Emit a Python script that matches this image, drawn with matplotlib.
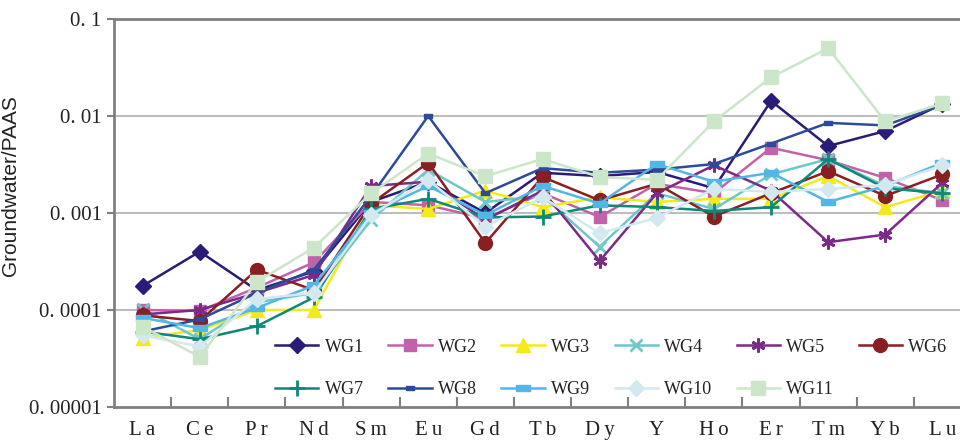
import matplotlib
matplotlib.use("Agg")
import matplotlib.pyplot as plt
from matplotlib.ticker import FixedLocator, NullLocator, FixedFormatter

elements = ["La", "Ce", "Pr", "Nd", "Sm", "Eu", "Gd", "Tb", "Dy", "Y", "Ho", "Er", "Tm", "Yb", "Lu"]

WG1 = [1.77e-4, 4.0e-4, 1.6e-4, 2.5e-4, 1.3e-3, 2.1e-3, 1.0e-3, 2.6e-3, 2.4e-3, 2.65e-3, 1.8e-3, 1.43e-2, 4.9e-3, 7.0e-3, 1.33e-2]
WG2 = [1.0e-4, 9.8e-5, 1.7e-4, 3.1e-4, 1.3e-3, 1.2e-3, 8.8e-4, 1.6e-3, 9.1e-4, 2.0e-3, 1.6e-3, 4.7e-3, 3.5e-3, 2.3e-3, 1.35e-3]
WG3 = [5.2e-5, 6.2e-5, 1.0e-4, 1.0e-4, 1.2e-3, 1.1e-3, 1.7e-3, 1.15e-3, 1.45e-3, 1.3e-3, 1.4e-3, 1.4e-3, 2.4e-3, 1.15e-3, 1.7e-3]
WG4 = [1.03e-4, 5.0e-5, 1.2e-4, 1.5e-4, 8.5e-4, 2.8e-3, 1.3e-3, 1.5e-3, 4.5e-4, 1.6e-3, 1.1e-3, 2.5e-3, 3.6e-3, 1.9e-3, 1.6e-3]
WG5 = [9.0e-5, 1.0e-4, 1.5e-4, 2.3e-4, 1.9e-3, 2.1e-3, 8.5e-4, 1.7e-3, 3.2e-4, 1.6e-3, 3.1e-3, 1.7e-3, 5.0e-4, 6.0e-4, 2.05e-3]
WG6 = [8.8e-5, 7.7e-5, 2.6e-4, 1.6e-4, 1.25e-3, 3.3e-3, 4.9e-4, 2.35e-3, 1.35e-3, 2.0e-3, 9.2e-4, 1.6e-3, 2.7e-3, 1.5e-3, 2.5e-3]
WG7 = [6.0e-5, 5.0e-5, 6.8e-5, 1.35e-4, 1.1e-3, 1.4e-3, 9.0e-4, 9.2e-4, 1.2e-3, 1.15e-3, 1.05e-3, 1.15e-3, 3.6e-3, 1.8e-3, 1.6e-3]
WG8 = [6.0e-5, 8.0e-5, 1.5e-4, 2.6e-4, 1.5e-3, 1.0e-2, 1.6e-3, 2.9e-3, 2.6e-3, 2.8e-3, 3.2e-3, 5.2e-3, 8.5e-3, 8.0e-3, 1.3e-2]
WG9 = [8.3e-5, 6.5e-5, 1.05e-4, 1.8e-4, 1.0e-3, 1.9e-3, 9.5e-4, 1.9e-3, 1.25e-3, 3.2e-3, 2.1e-3, 2.6e-3, 1.3e-3, 1.9e-3, 3.3e-3]
WG10 = [5.5e-5, 4.2e-5, 1.3e-4, 1.5e-4, 9.5e-4, 2.2e-3, 7.2e-4, 1.45e-3, 6.2e-4, 8.9e-4, 1.77e-3, 1.65e-3, 1.77e-3, 1.95e-3, 3.1e-3]
WG11 = [6.7e-5, 3.3e-5, 1.95e-4, 4.4e-4, 1.6e-3, 4.1e-3, 2.4e-3, 3.6e-3, 2.35e-3, 2.2e-3, 8.8e-3, 2.5e-2, 5.0e-2, 8.8e-3, 1.35e-2]

series_names = ["WG1", "WG2", "WG3", "WG4", "WG5", "WG6", "WG7", "WG8", "WG9", "WG10", "WG11"]
series_values = [WG1, WG2, WG3, WG4, WG5, WG6, WG7, WG8, WG9, WG10, WG11]

ytick_values = [1e-5, 1e-4, 1e-3, 1e-2, 1e-1]
ytick_labels = ["0. 00001", "0. 0001", "0. 001", "0. 01", "0. 1"]
ylabel = "Groundwater/PAAS"

rect_marker = [(-1, -0.38), (1, -0.38), (1, 0.38), (-1, 0.38), (-1, -0.38)]
styles = {
    "WG1": dict(color="#2B1B78", marker="D", ms=8, mew=1),
    "WG2": dict(color="#C262AA", marker="s", ms=9, mew=1),
    "WG3": dict(color="#F2EA1A", marker="^", ms=10, mew=1),
    "WG4": dict(color="#6FC7C7", marker="x", ms=9, mew=2),
    "WG5": dict(color="#7C2A88", marker=(6, 2, 0), ms=10, mew=2),
    "WG6": dict(color="#8A1F22", marker="o", ms=10, mew=1),
    "WG7": dict(color="#0E8878", marker="+", ms=11, mew=2),
    "WG8": dict(color="#2E4B9A", marker=rect_marker, ms=6, mew=1),
    "WG9": dict(color="#52B7E6", marker=rect_marker, ms=10, mew=1),
    "WG10": dict(color="#D3E9EF", marker="D", ms=8, mew=1),
    "WG11": dict(color="#CCE6C9", marker="s", ms=10, mew=1),
}

fig = plt.figure(figsize=(9.6, 4.42), dpi=100)
ax = fig.add_axes([114 / 960, 1 - 407 / 442, 857 / 960, 388 / 442])

x = list(range(len(elements)))
handles = {}
for name, vals in zip(series_names, series_values):
    st = styles[name]
    (h,) = ax.plot(x, vals, color=st["color"], lw=1.8, marker=st["marker"],
                   ms=st["ms"], mew=st["mew"], mec=st["color"], mfc=st["color"],
                   label=name, zorder=3)
    handles[name] = h

ax.set_yscale("log")
ax.set_ylim(1e-5, 1e-1)
ax.set_xlim(-0.5, len(elements) - 0.5)

ax.yaxis.set_major_locator(FixedLocator(ytick_values))
ax.yaxis.set_major_formatter(FixedFormatter(ytick_labels))
ax.yaxis.set_minor_locator(NullLocator())

ax.set_xticks(x)
ax.set_xticklabels(["\u2009".join(list(e)) for e in elements])
ax.set_xticks([i + 0.5 for i in range(len(elements) - 1)], minor=True)
ax.tick_params(axis="x", which="major", length=0, pad=10)
ax.tick_params(axis="x", which="minor", direction="in", length=7, width=1.5, color="#808080")
ax.tick_params(axis="y", which="major", direction="out", length=5, width=1.5, color="#808080", pad=4)

for lab in ax.get_xticklabels() + ax.get_yticklabels():
    lab.set_fontfamily(["Liberation Serif", "DejaVu Serif"])
    lab.set_fontsize(15)
    lab.set_color("#222222")

for yv in ytick_values[1:-1]:
    ax.axhline(yv, color="#BDBDBD", lw=1.5, zorder=1)

for side in ["left", "bottom", "top"]:
    ax.spines[side].set_color("#808080")
    ax.spines[side].set_linewidth(2)
ax.spines["right"].set_visible(False)

ax.set_ylabel(ylabel, fontsize=15, family=["Liberation Sans", "DejaVu Sans"], color="#222222")
ax.yaxis.set_label_coords(-94 / 857, (407 - 186) / 388)

order = ["WG1", "WG7", "WG2", "WG8", "WG3", "WG9", "WG4", "WG10", "WG5", "WG11", "WG6"]
leg = ax.legend([handles[n] for n in order], order, ncol=6, loc="lower left",
                bbox_to_anchor=(266 / 960, 1 - 407 / 442), bbox_transform=fig.transFigure,
                frameon=False, borderpad=0, handlelength=2.4, handletextpad=0.35,
                columnspacing=1.35, labelspacing=1.4,
                prop={"family": ["Liberation Serif", "DejaVu Serif"], "size": 13})
for t in leg.get_texts():
    t.set_color("#222222")

fig.savefig("out.png", dpi=100)
